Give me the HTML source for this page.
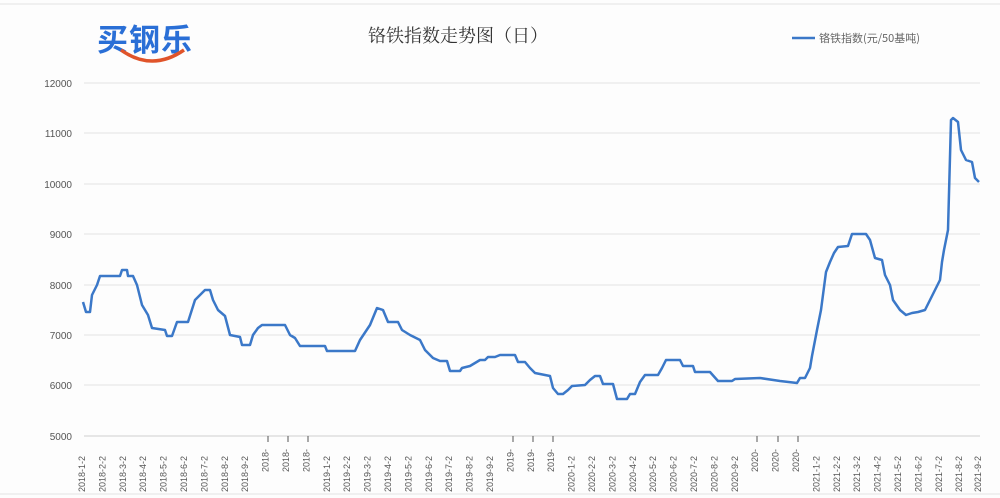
<!DOCTYPE html>
<html><head><meta charset="utf-8"><style>
body{margin:0;background:#fff;}
svg{display:block;font-family:"Liberation Sans","Noto Sans CJK SC",sans-serif;}
</style></head><body>
<svg width="1000" height="498" viewBox="0 0 1000 498">
<rect width="1000" height="498" fill="#fdfdfd"/>
<line x1="0" y1="4" x2="1000" y2="4" stroke="#e4e4e4"/>
<line x1="0" y1="494" x2="1000" y2="494" stroke="#e4e4e4"/>
<text x="97" y="51" font-size="31" fill="#2a6fd6" font-weight="bold" font-family="'Noto Sans CJK SC',sans-serif" letter-spacing="1">买钢乐</text>
<path d="M121 50 Q152 72 184 50" stroke="#e0542a" stroke-width="3.5" fill="none"/>
<text x="458" y="42" font-size="18" fill="#333" text-anchor="middle" font-family="'Noto Serif CJK SC',serif">铬铁指数走势图（日）</text>
<line x1="792" y1="38" x2="815" y2="38" stroke="#3b78c8" stroke-width="2.5"/>
<text x="819" y="42" font-size="11" fill="#666" font-family="'Noto Sans CJK SC',sans-serif">铬铁指数(元/50基吨)</text>
<g stroke="#e2e2e2" stroke-width="1">
<line x1="84" y1="83" x2="980" y2="83"/><line x1="84" y1="133" x2="980" y2="133"/><line x1="84" y1="184" x2="980" y2="184"/><line x1="84" y1="234" x2="980" y2="234"/><line x1="84" y1="285" x2="980" y2="285"/><line x1="84" y1="335" x2="980" y2="335"/><line x1="84" y1="385" x2="980" y2="385"/><line x1="84" y1="436" x2="980" y2="436" stroke="#d0d0d0"/>
</g>
<g font-size="10" fill="#555" text-anchor="end">
<text x="72" y="87">12000</text><text x="72" y="137">11000</text><text x="72" y="188">10000</text><text x="72" y="238">9000</text><text x="72" y="289">8000</text><text x="72" y="339">7000</text><text x="72" y="389">6000</text><text x="72" y="440">5000</text>
</g>
<g font-size="9" fill="#555">
<text transform="translate(85,492) rotate(-90)">2018-1-2</text>
<text transform="translate(105.4,492) rotate(-90)">2018-2-2</text>
<text transform="translate(125.8,492) rotate(-90)">2018-3-2</text>
<text transform="translate(146.2,492) rotate(-90)">2018-4-2</text>
<text transform="translate(166.6,492) rotate(-90)">2018-5-2</text>
<text transform="translate(187,492) rotate(-90)">2018-6-2</text>
<text transform="translate(207.4,492) rotate(-90)">2018-7-2</text>
<text transform="translate(227.8,492) rotate(-90)">2018-8-2</text>
<text transform="translate(248.2,492) rotate(-90)">2018-9-2</text>
<text transform="translate(268.6,472) rotate(-90)">2018-</text>
<text transform="translate(289,472) rotate(-90)">2018-</text>
<text transform="translate(309.4,472) rotate(-90)">2018-</text>
<text transform="translate(329.8,492) rotate(-90)">2019-1-2</text>
<text transform="translate(350.2,492) rotate(-90)">2019-2-2</text>
<text transform="translate(370.6,492) rotate(-90)">2019-3-2</text>
<text transform="translate(391,492) rotate(-90)">2019-4-2</text>
<text transform="translate(411.4,492) rotate(-90)">2019-5-2</text>
<text transform="translate(431.8,492) rotate(-90)">2019-6-2</text>
<text transform="translate(452.2,492) rotate(-90)">2019-7-2</text>
<text transform="translate(472.6,492) rotate(-90)">2019-8-2</text>
<text transform="translate(493,492) rotate(-90)">2019-9-2</text>
<text transform="translate(513.4,472) rotate(-90)">2019-</text>
<text transform="translate(533.8,472) rotate(-90)">2019-</text>
<text transform="translate(554.2,472) rotate(-90)">2019-</text>
<text transform="translate(574.6,492) rotate(-90)">2020-1-2</text>
<text transform="translate(595,492) rotate(-90)">2020-2-2</text>
<text transform="translate(615.4,492) rotate(-90)">2020-3-2</text>
<text transform="translate(635.8,492) rotate(-90)">2020-4-2</text>
<text transform="translate(656.2,492) rotate(-90)">2020-5-2</text>
<text transform="translate(676.6,492) rotate(-90)">2020-6-2</text>
<text transform="translate(697,492) rotate(-90)">2020-7-2</text>
<text transform="translate(717.4,492) rotate(-90)">2020-8-2</text>
<text transform="translate(737.8,492) rotate(-90)">2020-9-2</text>
<text transform="translate(758.2,472) rotate(-90)">2020-</text>
<text transform="translate(778.6,472) rotate(-90)">2020-</text>
<text transform="translate(799,472) rotate(-90)">2020-</text>
<text transform="translate(819.4,492) rotate(-90)">2021-1-2</text>
<text transform="translate(839.8,492) rotate(-90)">2021-2-2</text>
<text transform="translate(860.2,492) rotate(-90)">2021-3-2</text>
<text transform="translate(880.6,492) rotate(-90)">2021-4-2</text>
<text transform="translate(901,492) rotate(-90)">2021-5-2</text>
<text transform="translate(921.4,492) rotate(-90)">2021-6-2</text>
<text transform="translate(941.8,492) rotate(-90)">2021-7-2</text>
<text transform="translate(962.2,492) rotate(-90)">2021-8-2</text>
<text transform="translate(981,492) rotate(-90)">2021-9-2</text>
</g>
<g stroke="#555" stroke-width="1">
<line x1="268" y1="436" x2="268" y2="442"/><line x1="288" y1="436" x2="288" y2="442"/><line x1="308" y1="436" x2="308" y2="442"/>
<line x1="513" y1="436" x2="513" y2="442"/><line x1="533" y1="436" x2="533" y2="442"/><line x1="553" y1="436" x2="553" y2="442"/>
<line x1="757" y1="436" x2="757" y2="442"/><line x1="778" y1="436" x2="778" y2="442"/><line x1="798" y1="436" x2="798" y2="442"/>
</g>
<polyline fill="none" stroke="#3b78c8" stroke-width="2.5" stroke-linejoin="round" points="83,302 86,312 90,312 92,295 97,285 100,276 120,276 122,270 127,270 128,276 133,276 137,285 142,305 148,315 152,328 165,330 167,336 172,336 177,322 188,322 195,300 200,295 205,290 210,290 213,300 218,310 225,316 230,335 240,337 242,345 250,345 253,335 258,328 262,325 285,325 290,335 295,338 300,346 325,346 327,351 355,351 360,340 370,325 377,308 383,310 388,322 398,322 402,330 410,335 420,340 425,350 433,358 440,361 447,361 450,371 460,371 462,368 470,366 480,360 485,360 488,357 495,357 500,355 515,355 518,362 525,362 530,368 535,373 550,376 553,388 558,394 563,394 568,390 572,386 585,385 590,380 595,376 600,376 603,384 613,384 617,399 627,399 630,394 635,394 640,382 645,375 658,375 662,368 666,360 680,360 683,366 693,366 695,372 710,372 718,381 732,381 735,379 760,378 780,381 797,383 800,378 805,378 810,368 812,356 817,330 821,310 826,272 830,262 834,253 838,247 848,246 852,234 866,234 870,240 875,258 882,260 885,275 890,285 893,300 900,310 906,315 912,313 918,312 925,310 930,300 935,290 940,280 942,262 944,250 948,230 951,120 953,118 958,122 961,150 966,160 972,162 975,178 979,182"/>
</svg>
</body></html>
